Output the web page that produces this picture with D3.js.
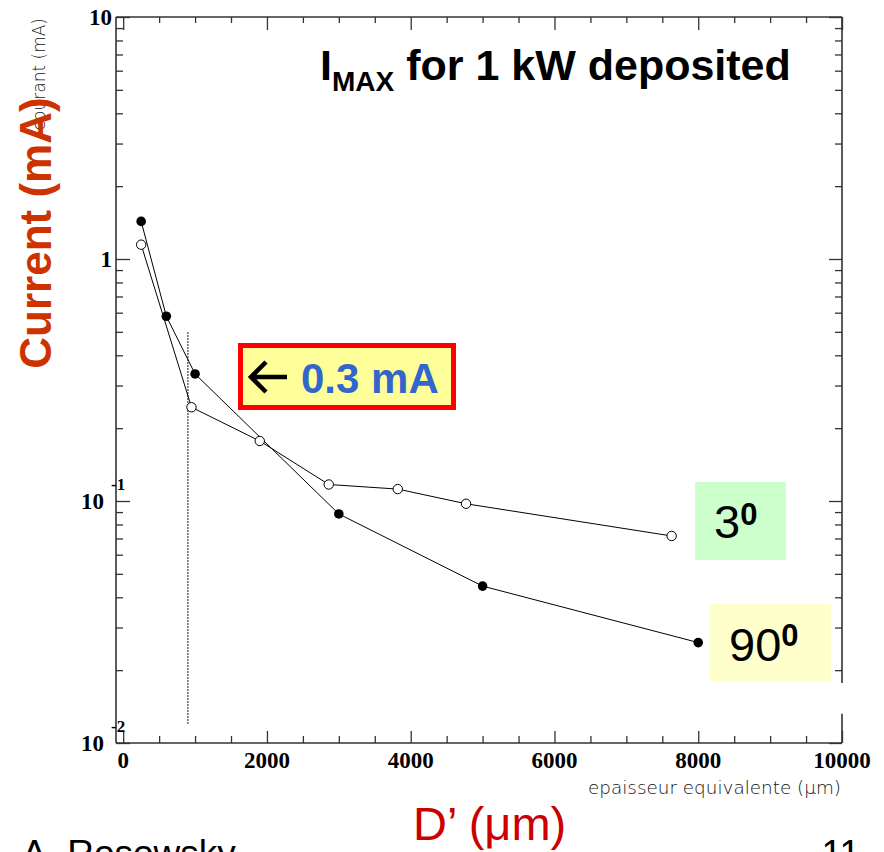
<!DOCTYPE html>
<html><head><meta charset="utf-8">
<script src="https://cdn.jsdelivr.net/npm/d3@7"></script>
<style>body{margin:0;background:#fff} svg{display:block}</style>
</head><body>
<svg id="c" width="884" height="852"></svg>
<script>
// ---- data ----
const series3X  = [250, 950, 1900, 2860, 3820, 4770, 7630];
const series3Y  = [1.146, 0.244, 0.177, 0.117, 0.112, 0.0974, 0.0717];
const series90X = [250, 600, 1000, 3000, 5000, 8000];
const series90Y = [1.43, 0.58, 0.335, 0.0884, 0.0445, 0.026];
const xTickValues = [0, 2000, 4000, 6000, 8000, 10000];
const xTickLabels = ["0", "2000", "4000", "6000", "8000", "10000"];
const yTickValues = [0.01, 0.1, 1, 10];
const yTickBase = ["10", "10", "1", "10"];
const yTickExp  = ["-2", "-1", "", ""];
const cutLineX = [900, 900];
const cutLineY = [0.012, 0.5];
const rightGapY = [0.0177, 0.0132];

// ---- layout ----
const L = 116, R = 842, T = 17, B = 743;
const svg = d3.select("#c");
const x = d3.scaleLinear().domain([-100, 10000]).range([L, R]);
const y = d3.scaleLog().domain([0.01, 10]).range([B, T]);

const axisColor = "#333";
const xMinor = d3.range(0, 10001, 500).filter(v => v % 2000 !== 0);
const yMinor = [];
[0.01, 0.1, 1].forEach(d => { for (let k = 2; k <= 9; k++) yMinor.push(d * k); });

function styleAxis(g) {
  g.selectAll("path.domain").remove();
  g.selectAll("line").attr("stroke", axisColor).attr("stroke-width", 1.3);
  g.selectAll("text").remove();
}
// bottom
svg.append("g").attr("transform", `translate(0,${B})`)
  .call(d3.axisTop(x).tickValues(xTickValues).tickSize(12).tickFormat("")).call(styleAxis);
svg.append("g").attr("transform", `translate(0,${B})`)
  .call(d3.axisTop(x).tickValues(xMinor).tickSize(7).tickFormat("")).call(styleAxis);
// top
svg.append("g").attr("transform", `translate(0,${T})`)
  .call(d3.axisBottom(x).tickValues(xTickValues).tickSize(13).tickFormat("")).call(styleAxis);
svg.append("g").attr("transform", `translate(0,${T})`)
  .call(d3.axisBottom(x).tickValues(xMinor).tickSize(6).tickFormat("")).call(styleAxis);
// left
svg.append("g").attr("transform", `translate(${L},0)`)
  .call(d3.axisRight(y).tickValues(yTickValues).tickSize(14).tickFormat("")).call(styleAxis);
svg.append("g").attr("transform", `translate(${L},0)`)
  .call(d3.axisRight(y).tickValues(yMinor).tickSize(7).tickFormat("")).call(styleAxis);
// right
svg.append("g").attr("transform", `translate(${R},0)`)
  .call(d3.axisLeft(y).tickValues(yTickValues).tickSize(13).tickFormat("")).call(styleAxis);
svg.append("g").attr("transform", `translate(${R},0)`)
  .call(d3.axisLeft(y).tickValues(yMinor).tickSize(7).tickFormat("")).call(styleAxis);

// frame lines
const frame = svg.append("g").attr("stroke", axisColor).attr("stroke-width", 1.6);
frame.append("line").attr("x1", L).attr("x2", R).attr("y1", B).attr("y2", B);
frame.append("line").attr("x1", L).attr("x2", R).attr("y1", T).attr("y2", T);
frame.append("line").attr("x1", L).attr("x2", L).attr("y1", T).attr("y2", B);
frame.append("line").attr("x1", R).attr("x2", R).attr("y1", T).attr("y2", y(rightGapY[0]));
frame.append("line").attr("x1", R).attr("x2", R).attr("y1", y(rightGapY[1])).attr("y2", B);

// tick labels
const serif = "'Liberation Serif','Times New Roman',serif";
svg.append("g").selectAll("text").data(xTickValues).join("text")
  .attr("x", d => x(d)).attr("y", 768)
  .attr("text-anchor", "middle").attr("font-family", serif).attr("font-weight", "bold")
  .attr("font-size", 23).text((d, i) => xTickLabels[i]);
const yl = svg.append("g").attr("font-family", serif).attr("font-weight", "bold");
yTickValues.forEach((v, i) => {
  const hasExp = yTickExp[i] !== "";
  yl.append("text").attr("x", hasExp ? 104 : 112).attr("y", y(v) + 8)
    .attr("text-anchor", "end").attr("font-size", 23).text(yTickBase[i]);
  if (hasExp) {
    yl.append("text").attr("x", 111).attr("y", y(v) - 11)
      .attr("font-size", 17).text(yTickExp[i]);
  }
});

// dotted cut line
svg.append("line").attr("x1", x(cutLineX[0])).attr("x2", x(cutLineX[1]))
  .attr("y1", y(cutLineY[0])).attr("y2", y(cutLineY[1]))
  .attr("stroke", "#000").attr("stroke-width", 1.2).attr("stroke-dasharray", "1.5,1.5");

// series
const line = d3.line().x(d => x(d[0])).y(d => y(d[1]));
const d3pts = series3X.map((v, i) => [v, series3Y[i]]);
const d90pts = series90X.map((v, i) => [v, series90Y[i]]);
svg.append("path").datum(d3pts).attr("d", line).attr("fill", "none").attr("stroke", "#000").attr("stroke-width", 1);
svg.append("path").datum(d90pts).attr("d", line).attr("fill", "none").attr("stroke", "#000").attr("stroke-width", 1);
svg.append("g").selectAll("circle").data(d3pts).join("circle")
  .attr("cx", d => x(d[0])).attr("cy", d => y(d[1])).attr("r", 4.7)
  .attr("fill", "#fff").attr("stroke", "#000").attr("stroke-width", 1);
svg.append("g").selectAll("circle").data(d90pts).join("circle")
  .attr("cx", d => x(d[0])).attr("cy", d => y(d[1])).attr("r", 4.8)
  .attr("fill", "#000");

// title
const sans = "'Liberation Sans',Arial,sans-serif";
const title = svg.append("text").attr("x", 320).attr("y", 80)
  .attr("font-family", sans).attr("font-weight", "bold").attr("font-size", 43).attr("fill", "#000");
title.append("tspan").text("I");
title.append("tspan").attr("font-size", 28).attr("dy", 11).text("MAX");
title.append("tspan").attr("dy", -11).text(" for 1 kW deposited");

// 0.3 mA box
svg.append("rect").attr("x", 240.5).attr("y", 345.5).attr("width", 213).attr("height", 62)
  .attr("fill", "#ffff99").attr("stroke", "#ff0000").attr("stroke-width", 5);
svg.append("path").attr("d", "M252,377 H287 M266,362 L251,377 L266,392")
  .attr("fill", "none").attr("stroke", "#000").attr("stroke-width", 4.5);
svg.append("text").attr("x", 301).attr("y", 393).attr("font-family", sans).attr("font-weight", "bold")
  .attr("font-size", 42).attr("fill", "#3366cc").text("0.3 mA");

// 3 deg box
svg.append("rect").attr("x", 695).attr("y", 482).attr("width", 91).attr("height", 78).attr("fill", "#ccffcc");
const t3 = svg.append("text").attr("x", 714).attr("y", 538).attr("font-family", sans).attr("font-size", 47).attr("fill", "#000");
t3.append("tspan").text("3");
t3.append("tspan").attr("font-size", 31).attr("font-weight", "bold").attr("dy", -13).text("0");
// 90 deg box
svg.append("rect").attr("x", 710).attr("y", 604).attr("width", 121).attr("height", 77).attr("fill", "#ffffcc");
const t90 = svg.append("text").attr("x", 729).attr("y", 661).attr("font-family", sans).attr("font-size", 47).attr("fill", "#000");
t90.append("tspan").text("90");
t90.append("tspan").attr("font-size", 31).attr("font-weight", "bold").attr("dy", -15).text("0");

// axis titles
svg.append("text").attr("transform", "translate(45,18) rotate(-90)")
  .attr("text-anchor", "end").attr("font-family", "'DejaVu Sans',sans-serif").attr("font-weight", 300)
  .attr("font-size", 17).attr("fill", "#111").text("courant (mA)");
svg.append("text").attr("transform", "translate(51,233) rotate(-90)")
  .attr("text-anchor", "middle").attr("font-family", sans).attr("font-weight", "bold")
  .attr("font-size", 44).attr("fill", "#cc3300").text("Current (mA)");
svg.append("text").attr("x", 841).attr("y", 794).attr("text-anchor", "end")
  .attr("font-family", "'DejaVu Sans',sans-serif").attr("font-weight", 300)
  .attr("font-size", 17).attr("fill", "#111")
  .attr("textLength", 253).attr("lengthAdjust", "spacingAndGlyphs")
  .text("epaisseur equivalente (\u03bcm)");
svg.append("text").attr("x", 413).attr("y", 840).attr("font-family", sans)
  .attr("font-size", 47).attr("fill", "#cc0000").text("D\u2019 (\u03bcm)");

// footer
svg.append("text").attr("x", 22).attr("y", 866).attr("font-family", sans).attr("font-size", 37)
  .attr("fill", "#000").text("A. Rosowsky");
svg.append("text").attr("x", 860).attr("y", 866).attr("text-anchor", "end").attr("font-family", sans)
  .attr("font-size", 37).attr("fill", "#000").text("11");
</script>
</body></html>
